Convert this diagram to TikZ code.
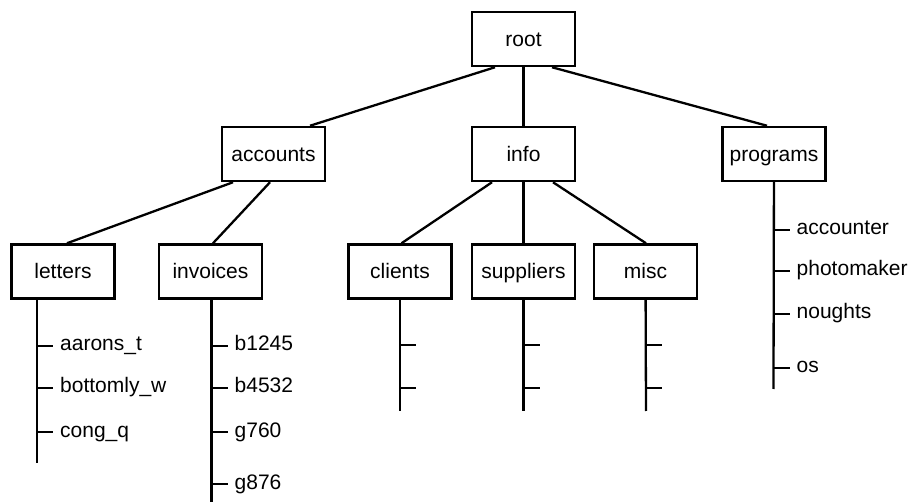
\documentclass[tikz,border=0pt]{standalone}
\usepackage{fontspec}
\setmainfont{Liberation Sans}
\usepackage{tikz}

\tikzset{
    dirbox/.style={draw, line width=2.5pt, minimum width=103pt, minimum height=54pt,
        inner sep=0pt, text height=15pt, text depth=0pt},
    branch/.style={line width=2.3pt},
    filelabel/.style={anchor=west, inner sep=0pt, inner xsep=7pt,
        text height=14pt, text depth=4pt}
}

\begin{document}
\begin{tikzpicture}[x=1pt, y=-1pt, font=\fontsize{21}{25}\selectfont]
        \useasboundingbox (0,0) rectangle (913,502);
        % directories
        \node[dirbox] (root) at (523.5,39) {root};
        \node[dirbox] (accounts) at (273.5,154) {accounts};
        \node[dirbox] (info) at (523.5,154) {info};
        \node[dirbox] (programs) at (774,154) {programs};
        \node[dirbox] (letters) at (63,271.5) {letters};
        \node[dirbox] (invoices) at (210.5,271.5) {invoices};
        \node[dirbox] (clients) at (400,271.5) {clients};
        \node[dirbox] (suppliers) at (523.5,271.5) {suppliers};
        \node[dirbox] (misc) at (645.5,271.5) {misc};
        % tree edges
        \draw[branch] ([xshift=-28.5pt]root.south) -- ([xshift=36.5pt]accounts.north);
        \draw[branch] (root) -- (info);
        \draw[branch] ([xshift=28.5pt]root.south) -- ([xshift=-7pt]programs.north);
        \draw[branch] ([xshift=-40.5pt]accounts.south) -- ([xshift=4pt]letters.north);
        \draw[branch] ([xshift=-3.5pt]accounts.south) -- ([xshift=2.5pt]invoices.north);
        \draw[branch] ([xshift=-31.5pt]info.south) -- ([xshift=1.5pt]clients.north);
        \draw[branch] (info) -- (suppliers);
        \draw[branch] ([xshift=29.5pt]info.south) -- ([xshift=0.5pt]misc.north);
        % file lists
        \coordinate (letters-end) at (37,463);
        \draw[branch] ([xshift=-26pt]letters.south) -- (letters-end);
        \foreach \y/\file [count=\i] in {346/aarons\_t, 388/bottomly\_w, 432/cong\_q} {
            \coordinate (letters-\i) at (37,\y);
            \node[filelabel] (letters-f\i) at (53,\y) {\file};
            \draw[branch] (letters-\i) -- (letters-f\i.west);
        }
        \coordinate (invoices-end) at (211.5,503);
        \draw[branch] ([xshift=1pt]invoices.south) -- (invoices-end);
        \foreach \y/\file [count=\i] in {346/b1245, 388/b4532, 432/g760, 484/g876} {
            \coordinate (invoices-\i) at (211.5,\y);
            \node[filelabel] (invoices-f\i) at (227.5,\y) {\file};
            \draw[branch] (invoices-\i) -- (invoices-f\i.west);
        }
        \coordinate (programs-end) at (773.5,389);
        \draw[branch] (programs) -- (programs-end);
        \foreach \y/\file [count=\i] in {230/accounter, 271/photomaker, 314/noughts, 368/os} {
            \coordinate (programs-\i) at (773.5,\y);
            \node[filelabel] (programs-f\i) at (789.5,\y) {\file};
            \draw[branch] (programs-\i) -- (programs-f\i.west);
        }
        % empty folders
        \foreach \dir/\x in {clients/400, suppliers/523.5, misc/646} {
            \coordinate (\dir-end) at (\x,411);
            \draw[branch] (\dir) -- (\dir-end);
            \foreach \y [count=\i] in {345, 388} {
                \coordinate (\dir-\i) at (\x,\y);
                \coordinate (\dir-t\i) at (\x+16,\y);
                \draw[branch] (\dir-\i) -- (\dir-t\i);
            }
        }
    \end{tikzpicture}
\end{document}
